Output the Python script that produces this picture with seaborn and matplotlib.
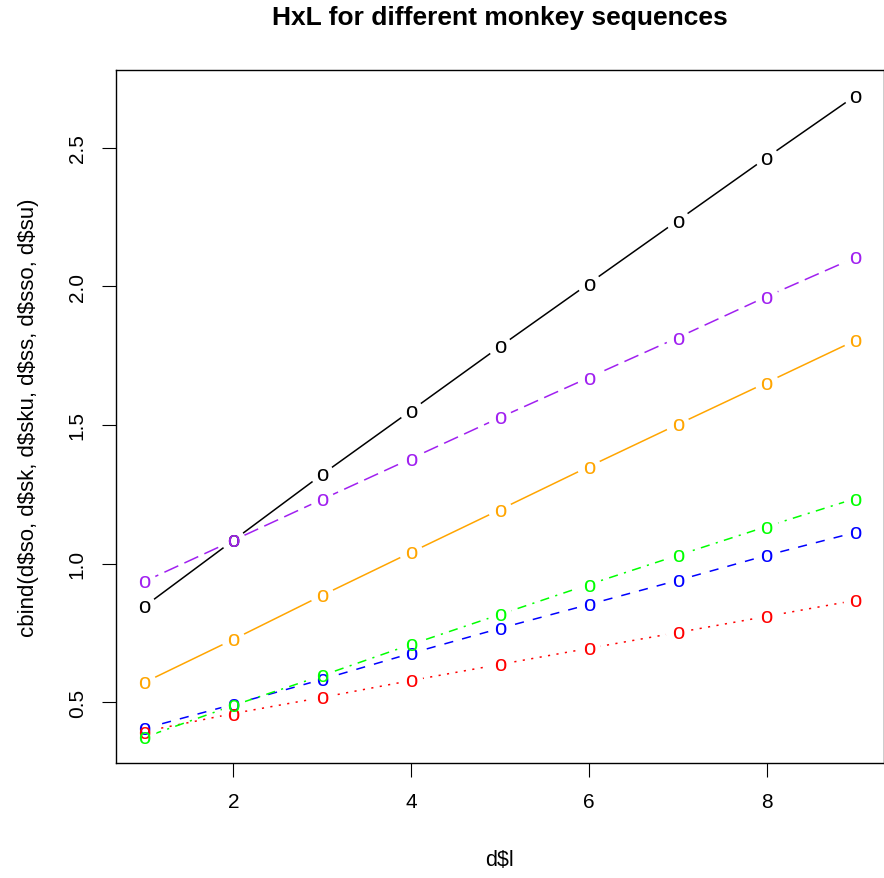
import matplotlib
matplotlib.use("Agg")
import matplotlib.pyplot as plt
import matplotlib.transforms as mtransforms
import seaborn as sns
import pandas as pd

# Sequence length
lengths = [1, 2, 3, 4, 5, 6, 7, 8, 9]

# HxL for each monkey sequence
so = [0.846, 1.084, 1.322, 1.552, 1.783, 2.010, 2.237, 2.464, 2.687]
sk = [0.406, 0.493, 0.583, 0.677, 0.767, 0.853, 0.940, 1.030, 1.113]
sku = [0.395, 0.460, 0.518, 0.579, 0.637, 0.695, 0.752, 0.810, 0.868]
ss = [0.374, 0.489, 0.597, 0.709, 0.817, 0.925, 1.030, 1.134, 1.235]
sso = [0.936, 1.084, 1.232, 1.379, 1.527, 1.671, 1.815, 1.963, 2.104]
su = [0.572, 0.727, 0.886, 1.041, 1.195, 1.350, 1.502, 1.653, 1.805]

series_names = ["so", "sk", "sku", "ss", "sso", "su"]
series_values = [so, sk, sku, ss, sso, su]
colors = ["#000000", "#0000FF", "#FF0000", "#00FF00", "#A020F0", "#FFA500"]
line_styles = [
    "-",
    (0, (6, 6)),
    (0, (1.4, 4.2)),
    (0, (1.4, 4.2, 6, 4.2)),
    (0, (10, 4.4)),
    "-",
]

sns.set_theme(style="white")
plt.rcParams["font.family"] = ["Liberation Sans", "DejaVu Sans"]
plt.rcParams["text.color"] = "black"

rows = []
for name, vals in zip(series_names, series_values):
    for l, v in zip(lengths, vals):
        rows.append({"l": l, "value": v, "series": name})
df = pd.DataFrame(rows)

fig = plt.figure(figsize=(8.84, 8.79), dpi=100)
ax = fig.add_axes([0.1312, 0.1308, 1.0 - 0.1312, 0.9192 - 0.1308])

for name, col, ls in zip(series_names, colors, line_styles):
    sub = df[df["series"] == name]
    sns.lineplot(data=sub, x="l", y="value", color=col, linestyle=ls,
                 linewidth=1.1, ax=ax, zorder=2, legend=False)

# white gaps where the lines meet the points
sns.scatterplot(data=df, x="l", y="value", marker="o", s=300, color="white",
                edgecolor="none", linewidth=0, ax=ax, zorder=3, legend=False)

# "o" point symbols, glyph centred on each data point
o_size = 16
o_shift = mtransforms.offset_copy(ax.transData, fig=fig, x=0,
                                  y=-0.27 * o_size, units="points")
for name, col in zip(series_names, colors):
    sub = df[df["series"] == name]
    for l, v in zip(sub["l"], sub["value"]):
        ax.text(l, v, "o", color=col, fontsize=o_size, ha="center",
                va="baseline", transform=o_shift, zorder=4)

ax.set_xlim(0.68, 9.32)
ax.set_ylim(0.2815, 2.7795)
ax.set_xticks([2, 4, 6, 8])
ax.set_yticks([0.5, 1.0, 1.5, 2.0, 2.5])
ax.set_xticklabels(["2", "4", "6", "8"])
ax.set_yticklabels(["0.5", "1.0", "1.5", "2.0", "2.5"], rotation=90, va="center")

for s in ax.spines.values():
    s.set_visible(True)
    s.set_color("black")
    s.set_linewidth(1.0)

ax.tick_params(axis="both", which="major", direction="out", length=10, width=0.8,
               color="black", labelsize=15, labelcolor="black", pad=11,
               bottom=True, left=True, top=False, right=False)

ax.set_xlabel("d\\$l", fontsize=15.5, color="black", labelpad=27)
ax.set_ylabel("cbind(d\\$so, d\\$sk, d\\$sku, d\\$ss, d\\$sso, d\\$su)",
              fontsize=16, color="black", labelpad=21)

fig.text(0.5656, 1 - 18 / 879, "HxL for different monkey sequences",
         fontsize=19, fontweight="bold", ha="center", va="center",
         color="black")

fig.savefig("out.png", dpi=100)
